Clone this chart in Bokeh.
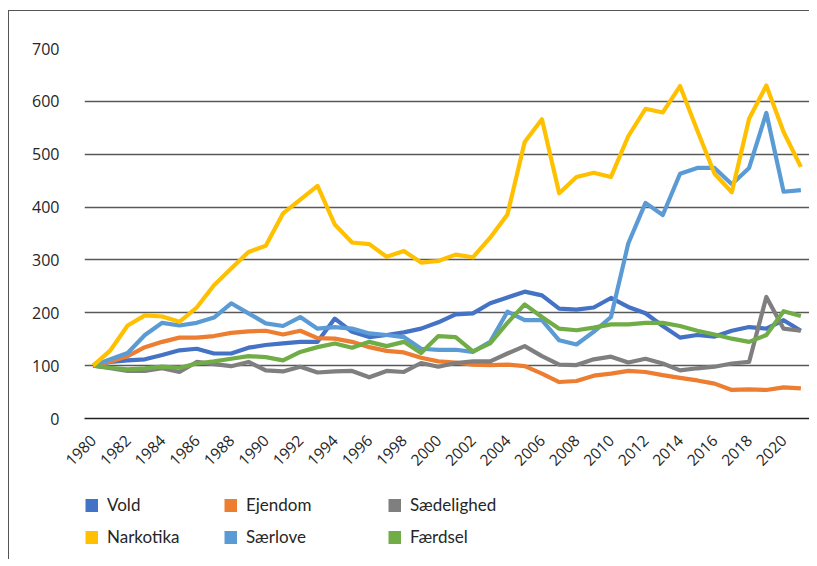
from bokeh.plotting import figure
from bokeh.models import (Range1d, FixedTicker, Legend, LegendItem, ColumnDataSource, Spacer)
from bokeh.layouts import column, row
from bokeh.embed import file_html
from bokeh.resources import INLINE
import math

years = list(range(1980, 2022))

vold = [100, 107, 110, 112, 120, 129, 132, 123, 123, 134, 139, 142, 145, 145,
        189, 164, 154, 158, 163, 170, 182, 197, 199, 218, 229, 240, 233, 208,
        206, 210, 228, 211, 199, 175, 153, 158, 155, 166, 173, 170, 186, 166]
ejendom = [100, 108, 118, 135, 145, 153, 153, 156, 162, 165, 166, 159, 166, 152,
           151, 145, 135, 128, 125, 115, 108, 106, 102, 101, 102, 99, 85, 69,
           71, 81, 85, 90, 88, 82, 77, 72, 66, 54, 55, 54, 59, 57]
saedelighed = [100, 95, 90, 90, 95, 88, 107, 103, 99, 107, 91, 89, 98, 87,
               89, 90, 78, 90, 88, 105, 98, 105, 108, 108, 123, 137, 118, 102,
               101, 112, 117, 106, 113, 104, 91, 95, 98, 104, 107, 230, 170, 166]
narkotika = [100, 129, 176, 195, 193, 183, 210, 252, 284, 315, 327, 388, 414, 440,
             367, 333, 330, 306, 317, 295, 298, 310, 305, 342, 386, 523, 566, 426,
             457, 465, 457, 534, 586, 579, 629, 545, 463, 428, 567, 630, 542, 476]
saerlove = [100, 112, 124, 158, 181, 176, 181, 191, 218, 199, 180, 175, 192, 170,
            173, 170, 161, 158, 154, 132, 130, 130, 126, 145, 202, 186, 186, 148,
            140, 164, 192, 331, 408, 385, 463, 474, 474, 443, 474, 578, 429, 432]
faerdsel = [100, 96, 93, 95, 98, 96, 104, 108, 113, 118, 116, 110, 126, 135,
            142, 134, 145, 137, 145, 124, 156, 154, 127, 142, 181, 216, 192, 170,
            167, 172, 178, 178, 181, 181, 175, 166, 159, 151, 145, 158, 203, 194]

names = ["Vold", "Ejendom", "Sædelighed", "Narkotika", "Særlove", "Færdsel"]
series = [vold, ejendom, saedelighed, narkotika, saerlove, faerdsel]
colors = ["#4472C4", "#ED7D31", "#7F7F7F", "#FFC000", "#5B9BD5", "#70AD47"]
draw_order = [0, 1, 2, 4, 5, 3]

y_ticks = [0, 100, 200, 300, 400, 500, 600, 700]
x_ticks = list(range(1980, 2021, 2))

# ---------------- main chart ----------------
p = figure(width=800, height=463, output_backend="svg", toolbar_location=None,
           x_range=Range1d(years[0] - 0.5, years[-1] + 0.5), y_range=Range1d(0, 700),
           min_border_left=75, min_border_right=0, min_border_top=37,
           min_border_bottom=56)
p.outline_line_color = None
p.background_fill_color = "white"
p.border_fill_color = "white"

src = ColumnDataSource(dict(year=years, **{f"s{i}": s for i, s in enumerate(series)}))
for i in draw_order:
    p.line("year", f"s{i}", source=src, line_color=colors[i], line_width=4.2,
           line_join="round")

p.xaxis.ticker = FixedTicker(ticks=x_ticks)
p.yaxis.ticker = FixedTicker(ticks=y_ticks)
p.xgrid.grid_line_color = None
p.ygrid.grid_line_color = "#595959"
p.ygrid.grid_line_width = 1.4
p.xaxis.axis_line_color = "#222222"
p.xaxis.axis_line_width = 1.5
p.yaxis.axis_line_color = None
for ax in (p.xaxis, p.yaxis):
    ax.major_tick_line_color = None
    ax.minor_tick_line_color = None
    ax.major_label_text_font = "Open Sans"
    ax.major_label_text_color = "#262626"
p.yaxis.major_label_text_font_size = "16px"
p.yaxis.major_label_standoff = 19
p.xaxis.major_label_text_font_size = "15.5px"
p.xaxis.major_label_orientation = math.pi / 4
p.xaxis.major_label_standoff = 13


# ---------------- legend strip: one small figure per legend column ----------------
def legend_cell(idx, w):
    q = figure(width=w, height=85, output_backend="svg", toolbar_location=None,
               x_range=Range1d(0, 1), y_range=Range1d(0, 1),
               x_axis_location=None, y_axis_location=None,
               min_border_left=0, min_border_right=0, min_border_top=20,
               min_border_bottom=0)
    q.outline_line_color = None
    q.grid.visible = False
    q.background_fill_color = "white"
    q.border_fill_color = "white"
    items = []
    for j in idx:
        r = q.line(x=[float("nan")], y=[float("nan")], line_color=colors[j],
                   line_width=13, line_cap="butt")
        items.append(LegendItem(label=names[j], renderers=[r]))
    lg = Legend(items=items, location="top_left", orientation="vertical",
                glyph_width=13, glyph_height=20, label_height=20, label_standoff=9,
                spacing=11, padding=0, margin=0, border_line_color=None,
                background_fill_alpha=0, label_text_font="Lato",
                label_text_font_size="17px", label_text_color="#262626")
    q.add_layout(lg, "center")
    return q


strip = row(Spacer(width=76, height=85),
            legend_cell([0, 3], 139),
            legend_cell([1, 4], 164),
            legend_cell([2, 5], 421),
            spacing=0)

layout = column(p, strip, spacing=0,
                styles={"margin-left": "8px", "margin-top": "10px",
                        "border-left": "1.5px solid #555555",
                        "border-top": "1.5px solid #555555",
                        "background-color": "white"})

open("out.html", "w").write(file_html(layout, INLINE))
